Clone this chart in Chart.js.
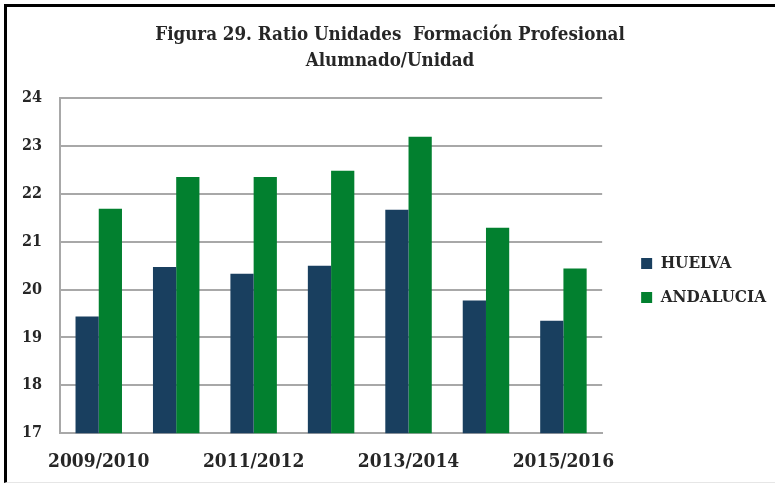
<!DOCTYPE html>
<html>
<head>
<meta charset="utf-8">
<script src="https://cdn.jsdelivr.net/npm/chart.js@4/dist/chart.umd.min.js"></script>
<style>
  html, body { margin: 0; padding: 0; background: #fff; overflow: hidden; width: 775px; height: 490px; }
  #frame {
    position: absolute; left: 4px; top: 4px; width: 771px; height: 479px;
    border-top: 3px solid #000; border-left: 3px solid #000;
    border-bottom: 1px solid #e6e6e6; box-sizing: border-box;
  }
  #wrap { position: absolute; left: 4px; top: 7px; width: 772px; height: 483px; }
</style>
</head>
<body>
<div id="frame"></div>
<div id="wrap"><canvas id="chart"></canvas></div>
<script>
// ── Data
const cursos     = ['2009/2010', '2010/2011', '2011/2012', '2012/2013', '2013/2014', '2014/2015', '2015/2016'];
const huelva     = [19.44, 20.47, 20.33, 20.50, 21.67, 19.77, 19.35];
const andalucia  = [21.69, 22.35, 22.35, 22.48, 23.19, 21.29, 20.44];
const yTicks     = [17, 18, 19, 20, 21, 22, 23, 24];

const FONT = '"DejaVu Serif Condensed", "DejaVu Serif", serif';
const TEXT = '#262626';
const GRID = '#a8a8a8';

new Chart(document.getElementById('chart'), {
  type: 'bar',
  data: {
    labels  : cursos,
    datasets: [
      { label: 'HUELVA',    data: huelva,    backgroundColor: '#193f5f', borderWidth: 0 },
      { label: 'ANDALUCIA', data: andalucia, backgroundColor: '#02802f', borderWidth: 0 }
    ]
  },
  options: {
    responsive: true,
    maintainAspectRatio: false,
    animation: false,
    layout: { padding: { left: 0, right: 0, top: 0, bottom: 0 } },
    datasets: { bar: { categoryPercentage: 0.6, barPercentage: 1.0 } },
    plugins: {
      title: {
        display: true,
        text   : ['Figura 29. Ratio Unidades  Formación Profesional', 'Alumnado/Unidad'],
        color  : TEXT,
        font   : { family: FONT, size: 18.6, weight: 'bold', lineHeight: 1.4 },
        padding: { top: 15, bottom: 24 }
      },
      legend: {
        position: 'right',
        maxWidth: 200,
        title: { display: true, text: ' ', font: { size: 1 }, padding: { top: 63, bottom: 0 } },
        labels: {
          color   : TEXT,
          boxWidth: 11,
          boxHeight: 11,
          padding : 17,
          font    : { family: FONT, size: 17, weight: 'bold' }
        }
      },
      tooltip: { enabled: false }
    },
    scales: {
      x: {
        grid  : { display: false, drawTicks: false },
        border: { color: GRID, width: 2 },
        ticks : {
          color: TEXT, autoSkip: false, maxRotation: 0, padding: 17,
          font : { family: FONT, size: 19, weight: 'bold' },
          callback: (v, i) => (i % 2 === 0 ? cursos[i] : '')
        }
      },
      y: {
        min: yTicks[0],
        max: yTicks[yTicks.length - 1],
        afterBuildTicks: axis => { axis.ticks = yTicks.map(v => ({ value: v })); },
        grid  : { color: GRID, lineWidth: 2, drawTicks: false },
        border: { color: GRID, width: 2 },
        ticks : {
          color: TEXT, padding: 18,
          font : { family: FONT, size: 16, weight: 'bold' }
        }
      },
      // empty spacer between plot and legend
      gap: {
        position: 'right',
        grid  : { display: false, drawTicks: false },
        border: { display: false },
        ticks : { display: false },
        afterFit: axis => { axis.width = 22; }
      }
    }
  }
});
</script>
</body>
</html>
